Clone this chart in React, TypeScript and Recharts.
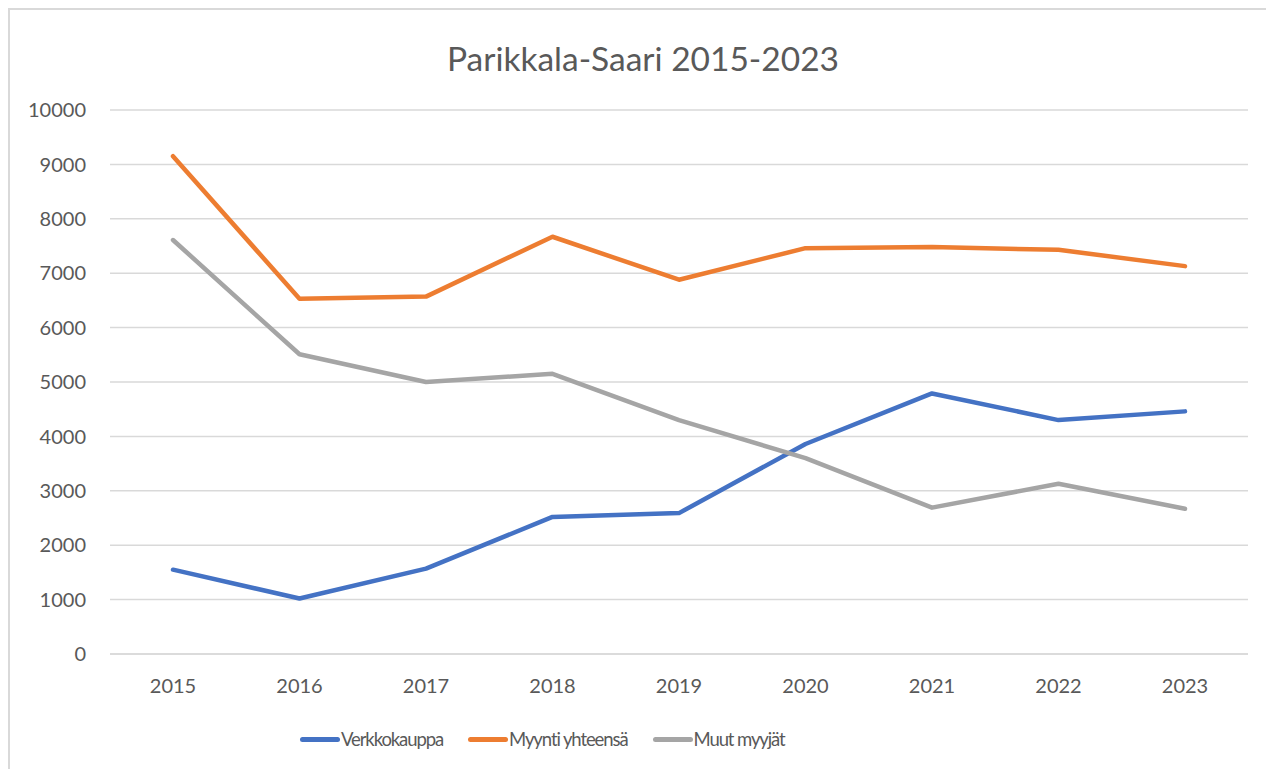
import React from "react";
import { CartesianGrid, Legend, Line, LineChart, XAxis, YAxis } from "recharts";

const years = ["2015", "2016", "2017", "2018", "2019", "2020", "2021", "2022", "2023"];
const verkkokauppa = [1550, 1020, 1570, 2520, 2590, 3860, 4790, 4300, 4460];
const myyntiYhteensa = [9150, 6530, 6570, 7670, 6880, 7460, 7480, 7430, 7130];
const muutMyyjat = [7610, 5510, 5000, 5150, 4300, 3600, 2690, 3130, 2670];
const yTicks = [0, 1000, 2000, 3000, 4000, 5000, 6000, 7000, 8000, 9000, 10000];

const data = years.map((year, i) => ({
  year,
  verkkokauppa: verkkokauppa[i],
  myynti: myyntiYhteensa[i],
  muut: muutMyyjat[i],
}));

// series order = legend order
const series = [
  { key: "verkkokauppa", name: "Verkkokauppa", color: "#4472C4" },
  { key: "myynti", name: "Myynti yhteensä", color: "#ED7D31" },
  { key: "muut", name: "Muut myyjät", color: "#A5A5A5" },
];

const FONT = "Lato, Carlito, Calibri, sans-serif";
const TEXT = "#595959";

function ChartLegend() {
  return (
    <div
      style={{
        display: "flex",
        justifyContent: "flex-start",
        alignItems: "center",
        gap: 25,
        height: 55,
        paddingTop: 15,
        paddingLeft: 290,
        boxSizing: "border-box",
        fontFamily: FONT,
        fontSize: 18.5,
        letterSpacing: -1.1,
        color: TEXT,
      }}
    >
      {series.map((s) => (
        <div key={s.key} style={{ display: "flex", alignItems: "center" }}>
          <span
            style={{
              display: "block",
              width: 40,
              height: 5,
              borderRadius: 3,
              background: s.color,
              marginRight: 1,
            }}
          />
          <span>{s.name}</span>
        </div>
      ))}
    </div>
  );
}

export default function App() {
  return (
    <div
      style={{
        position: "relative",
        width: 1264,
        height: 761,
        borderTop: "2px solid #d9d9d9",
        borderLeft: "2px solid #d9d9d9",
        background: "#fff",
      }}
    >
      <div
        style={{
          position: "absolute",
          top: 28,
          left: 0,
          width: 1266,
          textAlign: "center",
          fontFamily: FONT,
          fontSize: 33.5,
          color: TEXT,
          lineHeight: "40px",
        }}
      >
        Parikkala-Saari 2015-2023
      </div>
      <LineChart
        width={1264}
        height={759}
        data={data}
        margin={{ top: 100, right: 26, left: 0, bottom: 10 }}
      >
        <CartesianGrid stroke="#d9d9d9" strokeWidth={1.5} vertical={false} />
        <XAxis
          dataKey="year"
          padding={{ left: 63, right: 63 }}
          axisLine={{ stroke: "#d9d9d9", strokeWidth: 1.5 }}
          tickLine={false}
          tickSize={0}
          tickMargin={25}
          height={50}
          tick={{ fill: TEXT, fontSize: 20, fontFamily: FONT }}
        />
        <YAxis
          domain={[0, 10000]}
          ticks={yTicks}
          interval={0}
          axisLine={false}
          tickLine={false}
          tickSize={0}
          tickMargin={24}
          width={100}
          tick={{ fill: TEXT, fontSize: 20, fontFamily: FONT }}
        />
        <Legend verticalAlign="bottom" height={55} content={<ChartLegend />} />
        {series.map((s) => (
          <Line
            key={s.key}
            name={s.name}
            dataKey={s.key}
            stroke={s.color}
            strokeWidth={4.5}
            dot={false}
            strokeLinecap="round"
            strokeLinejoin="round"
            isAnimationActive={false}
          />
        ))}
      </LineChart>
    </div>
  );
}
